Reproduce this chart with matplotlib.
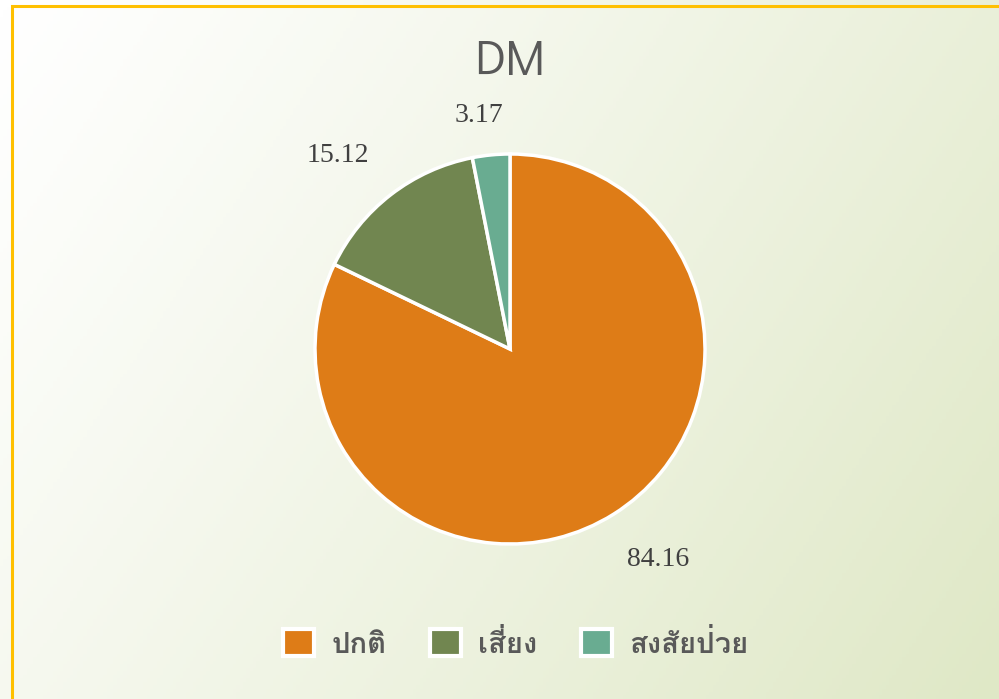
import numpy as np
import matplotlib
matplotlib.use("Agg")
import matplotlib.pyplot as plt
from matplotlib.patches import Patch, Rectangle
from matplotlib.colors import LinearSegmentedColormap

# data
title = "DM"
categories = ["ปกติ", "เสี่ยง", "สงสัยป่วย"]
values = [84.16, 15.12, 3.17]
colors = ["#DE7C17", "#718650", "#69AC91"]

fig = plt.figure(figsize=(9.99, 6.99), dpi=100)

# background gradient, white top-left to pale green towards the right
bg = fig.add_axes([0, 0, 1, 1], zorder=0)
yy, xx = np.mgrid[0:1:200j, 0:1:300j]
grad = np.clip((xx * 0.78 + yy * 0.35) / 1.13, 0, 1) ** 1.1
cmap = LinearSegmentedColormap.from_list("bg", ["#FFFFFF", "#DFE8C6"])
bg.imshow(grad, cmap=cmap, aspect="auto", extent=[0, 1, 0, 1], origin="upper",
          vmin=0, vmax=1)
bg.set_xlim(0, 1)
bg.set_ylim(0, 1)
bg.axis("off")
# yellow frame line (only left and top edges are inside the picture)
bg.add_patch(Rectangle((12 / 999, -0.05), 1.2, 1.05 - 6 / 699, fill=False,
                       edgecolor="#FFC000", linewidth=2.2))

# pie: centre (510, 349) px, radius 195 px
r = 195
ax = fig.add_axes([(510 - r) / 999, (699 - 349 - r) / 699, 2 * r / 999, 2 * r / 699], zorder=1)
wedges, texts = ax.pie(values, colors=colors, startangle=90, counterclock=False,
                       wedgeprops=dict(edgecolor="white", linewidth=2.5),
                       labels=[f"{v:.2f}" for v in values], labeldistance=1.3,
                       textprops=dict(family="Liberation Serif", fontsize=20, color="#404040"))
dists = [1.32, 1.33, 1.21]
shift = [3, 4, 2]
for w, t, d, s in zip(wedges, texts, dists, shift):
    ang = np.deg2rad((w.theta1 + w.theta2) / 2 + s)
    t.set_position((d * np.cos(ang), d * np.sin(ang)))
    t.set_ha("center")
    t.set_va("center")
ax.set_xlim(-1, 1)
ax.set_ylim(-1, 1)
ax.set_aspect("equal")

fig.text(510 / 999, 1 - 62 / 699, title, ha="center", va="center",
         family="Didact Gothic", fontsize=35, color="#595959")

handles = [Patch(facecolor=c, edgecolor="white", linewidth=3) for c in colors]
leg = fig.legend(handles, categories, loc="center", bbox_to_anchor=(516 / 999, 1 - 644 / 699),
                 ncol=3, frameon=False, handlelength=1.05, handleheight=1.05,
                 handletextpad=0.6, columnspacing=1.5,
                 prop=dict(family=["Loma", "DejaVu Sans"], weight="bold", size=21))
for t in leg.get_texts():
    t.set_color("#595959")

fig.savefig("out.png", dpi=100)
